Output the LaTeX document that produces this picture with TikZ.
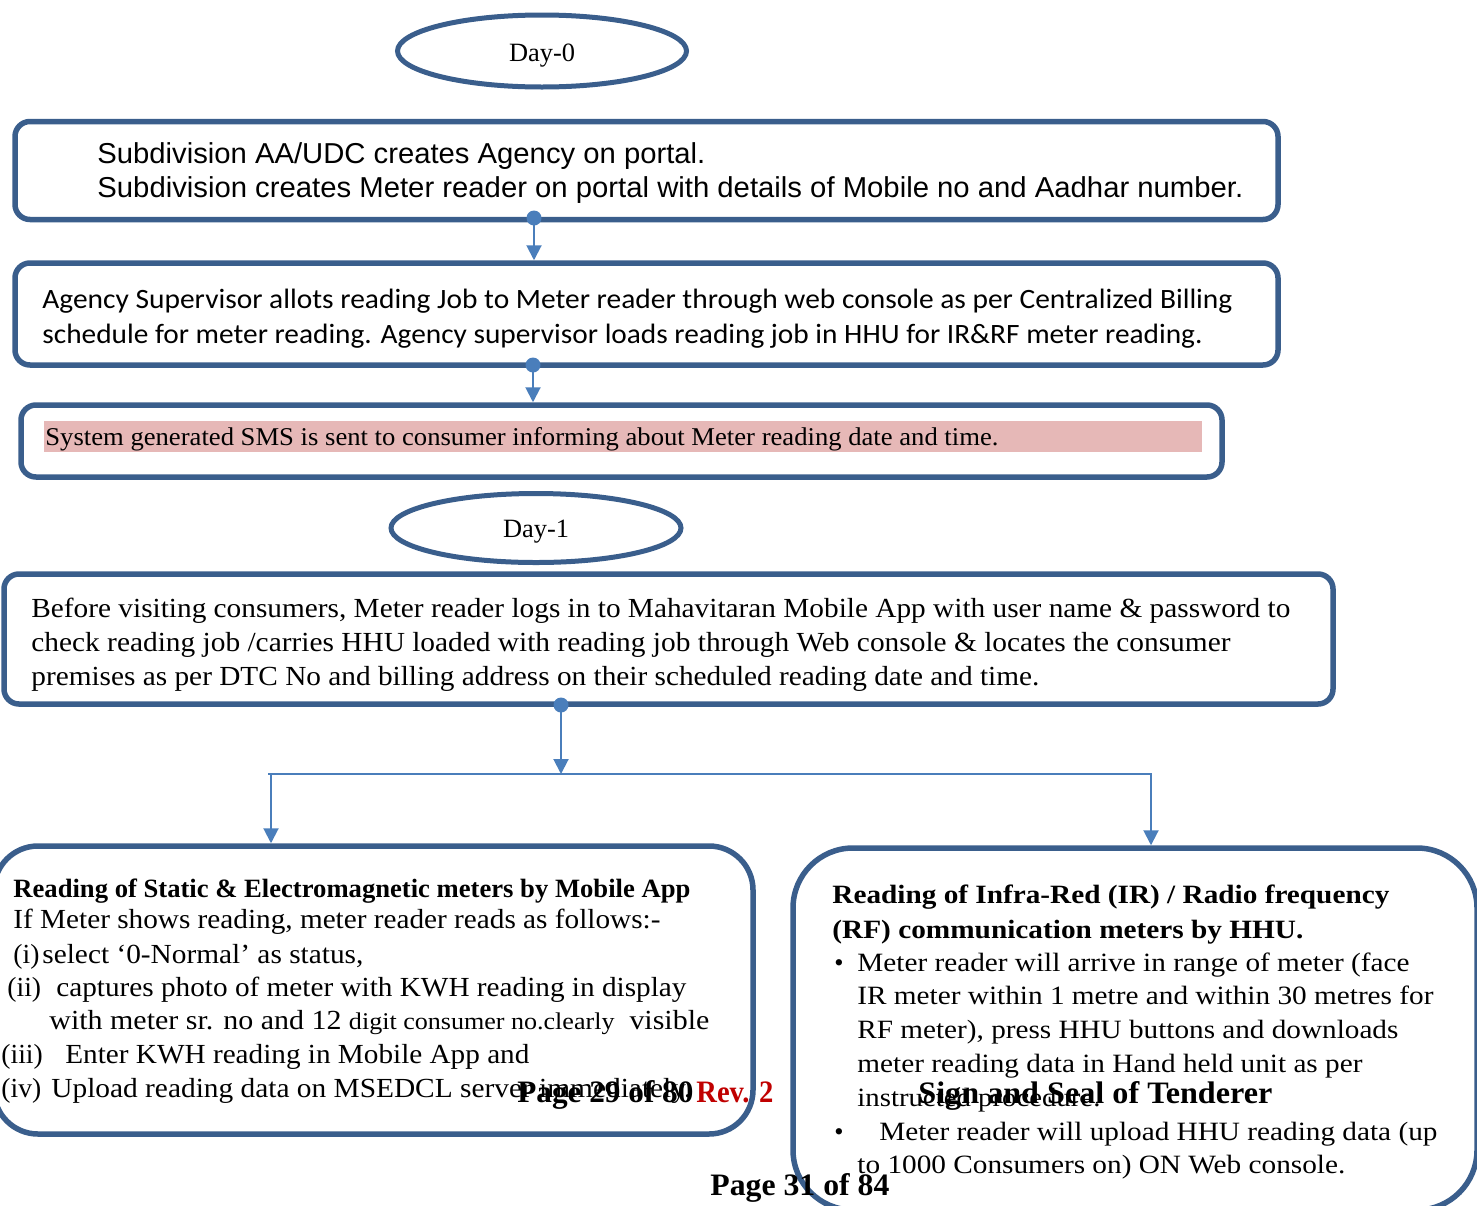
\documentclass[tikz,border=0pt]{standalone}
\usepackage{fontspec}
\usepackage{graphicx}
\setmainfont{Liberation Serif}
\newfontfamily\arialf{Liberation Sans}
\newfontfamily\calib{Carlito}
\usetikzlibrary{arrows.meta,shapes.geometric}
\definecolor{boxblue}{HTML}{3A5E8C}
\definecolor{linkblue}{HTML}{4A7EBB}
\definecolor{hlpink}{HTML}{E6B8B7}
\definecolor{revred}{HTML}{C00000}
\newcommand{\fl}[2]{\resizebox{\dimexpr #1pt/2\relax}{\height}{#2}}
\begin{document}
\begin{tikzpicture}[x=0.5pt,y=-0.5pt,
  box/.style={draw=boxblue, line width=2.75pt, rounded corners=7.5pt, inner sep=0pt},
  oval/.style={ellipse, draw=boxblue, line width=2.5pt, inner sep=0pt, text depth=0pt, font=\fontsize{13.2}{16}\selectfont},
  conn/.style={draw=linkblue, line width=1pt},
  arr/.style={conn, -{Triangle[width=7.5pt,length=7.5pt]}},
  dotn/.style={circle, fill=linkblue, inner sep=0pt, minimum size=7.5pt},
  tx/.style={anchor=base west, inner sep=0pt, font=\fontsize{13.8}{16}\selectfont},
  ts/.style={anchor=base west, inner sep=0pt, font=\fontsize{13.2}{16}\selectfont},
  tt/.style={anchor=base west, inner sep=0pt, font=\fontsize{12.8}{15}\selectfont},
  tb/.style={anchor=base west, inner sep=0pt, font=\fontsize{13.2}{15}\selectfont\bfseries},
  ta/.style={anchor=base west, inner sep=0pt, font=\arialf\fontsize{14.4}{17}\selectfont},
  tc/.style={anchor=base west, inner sep=0pt, font=\calib\fontsize{14}{17}\selectfont},
  foot/.style={anchor=base west, inner sep=0pt, font=\fontsize{15.6}{19}\selectfont\bfseries},
]
\path[use as bounding box] (0,0) rectangle (1477,1205);
\clip (0,0) rectangle (1477,1205);

% ovals
\node[oval, minimum width=144.5pt, minimum height=36pt] (day0) at (542,51) {\raisebox{-1.5pt}{Day-0}};
\node[oval, minimum width=145pt, minimum height=34.5pt] (day1) at (536,528) {\raisebox{-0.5pt}{Day-1}};

% boxes
\node[box, minimum width=631.5pt, minimum height=49pt] (b1) at (646.5,170.5) {};
\node[box, minimum width=631.5pt, minimum height=51pt] (b2) at (646.5,314) {};
\node[box, minimum width=600.5pt, minimum height=36pt] (b3) at (621.5,441) {};
\node[box, minimum width=664.5pt, minimum height=65pt] (b4) at (668.5,639) {};
\node[box, rounded corners=22pt, minimum width=379.5pt, minimum height=144pt] (b5) at (373.5,990) {};
\node[box, rounded corners=30pt, minimum width=342pt, minimum height=181pt] (b6) at (1135,1029) {};

% highlight
\node[fill=hlpink, inner sep=0pt, minimum width=579pt, minimum height=15.5pt] (hl) at (623,436.5) {};

% box 1 text
\node[ta] (t1a) at (97,163) {\fl{608}{Subdivision AA/UDC creates Agency on portal.}};
\node[ta] (t1b) at (97,197) {\fl{1146}{Subdivision creates Meter reader on portal with details of Mobile no and Aadhar number.}};
% box 2 text
\node[tc] (t2a) at (42,308) {\fl{1190}{Agency Supervisor allots reading Job to Meter reader through web console as per Centralized Billing}};
\node[tc] (t2b) at (42,343) {\fl{1160}{schedule for meter reading. Agency supervisor loads reading job in HHU for IR\&RF meter reading.}};
% box 3 text
\node[tt] (t3a) at (45,445) {\fl{953}{System generated SMS is sent to consumer informing about Meter reading date and time.}};
% box 4 text
\node[tx] (t4a) at (31,617) {\fl{1259}{Before visiting consumers, Meter reader logs in to Mahavitaran Mobile App with user name \& password to}};
\node[tx] (t4b) at (31,651) {\fl{1199}{check reading job /carries HHU loaded with reading job through Web console \& locates the consumer}};
\node[tx] (t4c) at (31,685) {\fl{1008}{premises as per DTC No and billing address on their scheduled reading date and time.}};

% box 5 text
\node[tb] (t5a) at (13,897) {\fl{677}{Reading of Static \& Electromagnetic meters by Mobile App}};
\node[tx] (t5b) at (13,928) {\fl{647}{If Meter shows reading, meter reader reads as follows:-}};
\node[tx] (t5c1) at (13,963) {(i)};
\node[tx] (t5c2) at (42,963) {\fl{321}{select ‘0-Normal’ as status,}};
\node[tx] (t5d1) at (7,996) {(ii)};
\node[tx] (t5d2) at (56,996) {\fl{630}{captures photo of meter with KWH reading in display}};
\node[tx] (t5e) at (49,1029) {\fl{660}{with meter sr. no and 12 {\fontsize{12}{14}\selectfont digit consumer no.clearly}\ \ visible}};
\node[tx] (t5f1) at (1,1063) {(iii)};
\node[tx] (t5f2) at (65,1063) {\fl{464}{Enter KWH reading in Mobile App and}};
\node[tx] (t5g1) at (1,1097) {(iv)};
\node[tx] (t5g2) at (51,1097) {\fl{640}{Upload reading data on MSEDCL server immediately.}};
\node[foot] (p29) at (517,1102) {\fl{176}{Page 29 of 80}};
\node[foot, text=revred] (rev) at (696,1102) {\fl{77}{Rev. 2}};

% box 6 text
\node[tb] (t6a) at (832,903) {\fl{557}{Reading of Infra-Red (IR) / Radio frequency}};
\node[tb] (t6b) at (832,938) {\fl{471}{(RF) communication meters by HHU.}};
\node[ts] (bu1) at (834,971) {•};
\node[ts] (t6c) at (857,971) {\fl{552}{Meter reader will arrive in range of meter (face}};
\node[ts] (t6d) at (857,1004) {\fl{576}{IR meter within 1 metre and within 30 metres for}};
\node[ts] (t6e) at (857,1038) {\fl{541}{RF meter), press HHU buttons and downloads}};
\node[ts] (t6f) at (857,1072) {\fl{505}{meter reading data in Hand held unit as per}};
\node[ts] (t6g) at (857,1106) {\fl{243}{instructed procedure.}};
\node[foot] (sign) at (918,1103) {\fl{354}{Sign and Seal of Tenderer}};
\node[ts] (bu2) at (834,1140) {•};
\node[ts] (t6h) at (879,1140) {\fl{558}{Meter reader will upload HHU reading data (up}};
\node[ts] (t6i) at (857,1173) {\fl{488}{to 1000 Consumers on) ON Web console.}};
\node[foot] (p31) at (710,1195) {\fl{179}{Page 31 of 84}};

% connectors
\node[dotn] (d1) at (534,218) {};
\draw[arr] (d1.center) -- (d1.center |- b2.north);
\node[dotn] (d2) at (533,365) {};
\draw[arr] (d2.center) -- (d2.center |- b3.north);
\node[dotn] (d3) at (561,705) {};
\coordinate (jl) at (268,774);
\coordinate (jr) at (1152,774);
\coordinate (jl2) at (271,774);
\coordinate (jr2) at (1151,774);
\draw[conn] (jl) -- (jr);
\draw[arr] (d3.center) -- (d3.center |- jl);
\draw[arr] (jl2) -- (jl2 |- b5.north);
\draw[arr] (jr2) -- (jr2 |- b6.north);
\end{tikzpicture}
\end{document}
